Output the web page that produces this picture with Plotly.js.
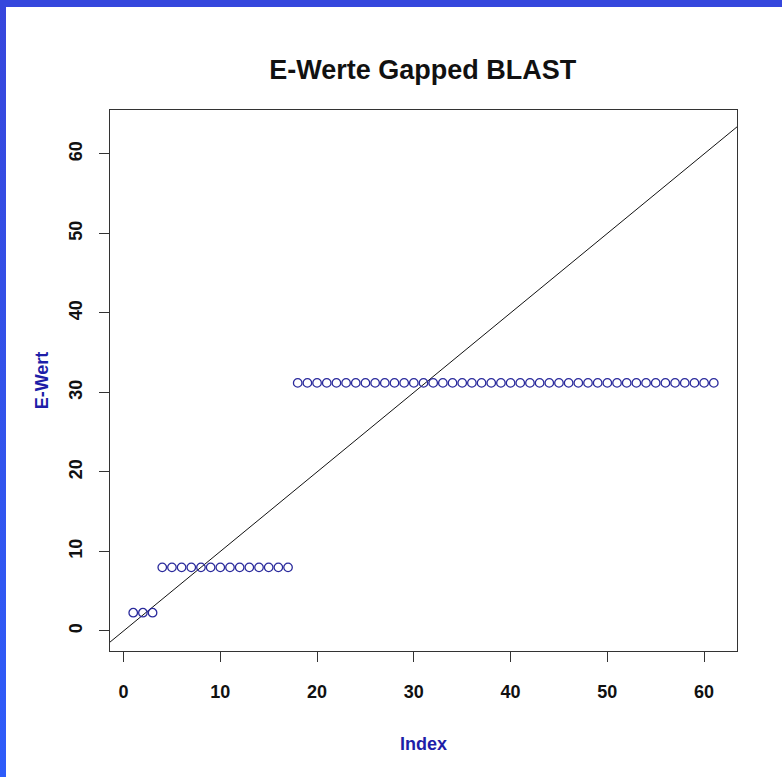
<!DOCTYPE html>
<html>
<head>
<meta charset="utf-8">
<script src="https://cdn.plot.ly/plotly-3.0.1.min.js"></script>
<style>
  html, body { margin: 0; padding: 0; }
  body {
    width: 782px; height: 777px; overflow: hidden;
    background: linear-gradient(to bottom, #3646dc 0%, #3252ea 50%, #2e5cfa 100%);
    position: relative;
  }
  #topband { position: absolute; left: 0; top: 0; width: 782px; height: 7px; background: #3547dd; }
  #chart { position: absolute; left: 6px; top: 7px; width: 776px; height: 770px; background: #fff; }
</style>
</head>
<body>
<div id="topband"></div>
<div id="chart"></div>
<script>
// ---- data ----
var indexValues = [];
for (var i = 1; i <= 61; i++) indexValues.push(i);
var eWertGroup1 = [2.3, 2.3, 2.3];                       // Index 1-3
var eWertGroup2 = [8.0, 8.0, 8.0, 8.0, 8.0, 8.0, 8.0, 8.0, 8.0, 8.0, 8.0, 8.0, 8.0, 8.0]; // Index 4-17
var eWertGroup3 = [31.2, 31.2, 31.2, 31.2, 31.2, 31.2, 31.2, 31.2, 31.2, 31.2, 31.2,
                   31.2, 31.2, 31.2, 31.2, 31.2, 31.2, 31.2, 31.2, 31.2, 31.2, 31.2,
                   31.2, 31.2, 31.2, 31.2, 31.2, 31.2, 31.2, 31.2, 31.2, 31.2, 31.2,
                   31.2, 31.2, 31.2, 31.2, 31.2, 31.2, 31.2, 31.2, 31.2, 31.2, 31.2]; // Index 18-61
var eWerte = eWertGroup1.concat(eWertGroup2, eWertGroup3);
var ablineIntercept = 0;
var ablineSlope = 1;
var yLimits = [0, 63];
var tickValsX = [0, 10, 20, 30, 40, 50, 60];
var tickValsY = [0, 10, 20, 30, 40, 50, 60];

// R-style 4% axis extension
function rRange(lo, hi) { var d = (hi - lo) * 0.04; return [lo - d, hi + d]; }
var xr = rRange(Math.min.apply(null, indexValues), Math.max.apply(null, indexValues));
var yr = rRange(yLimits[0], yLimits[1]);

var points = {
  x: indexValues, y: eWerte, type: 'scatter', mode: 'markers',
  marker: { symbol: 'circle-open', size: 8.5, color: '#2a2a9c', line: { width: 1.3, color: '#2a2a9c' } },
  hoverinfo: 'x+y', showlegend: false
};
var abline = {
  x: xr, y: xr.map(function (v) { return ablineIntercept + ablineSlope * v; }),
  type: 'scatter', mode: 'lines', line: { color: '#111', width: 1 },
  showlegend: false, hoverinfo: 'skip'
};

var FONT = 'Arial, Liberation Sans, sans-serif';
var tickFont = { family: FONT, size: 18, color: '#111', weight: 'bold' };
var layout = {
  width: 776, height: 770,
  paper_bgcolor: '#ffffff', plot_bgcolor: '#ffffff',
  margin: { l: 104, r: 45, t: 103, b: 126 },
  title: {
    text: '<b>E-Werte Gapped BLAST</b>',
    font: { family: FONT, size: 27, color: '#111' },
    x: 0.537, xanchor: 'center', y: 1 - 63 / 770, yanchor: 'middle'
  },
  xaxis: {
    range: xr, tickvals: tickValsX, ticks: 'outside', ticklen: 10, tickwidth: 1, tickcolor: '#333',
    showline: true, mirror: true, linecolor: '#333', linewidth: 1.2,
    showgrid: false, zeroline: false, tickfont: tickFont, ticklabelstandoff: 14,
    title: { text: '<b>Index</b>', font: { family: FONT, size: 18, color: '#1e1ea8' }, standoff: 36 },
    automargin: false
  },
  yaxis: {
    range: yr, tickvals: tickValsY, ticks: 'outside', ticklen: 10, tickwidth: 1, tickcolor: '#333',
    showline: true, mirror: true, linecolor: '#333', linewidth: 1.2,
    showgrid: false, zeroline: false, tickfont: tickFont, tickangle: -90, ticklabelstandoff: 10,
    title: { text: '<b>E-Wert</b>', font: { family: FONT, size: 18, color: '#1e1ea8' }, standoff: 12 },
    automargin: false
  }
};

Plotly.newPlot('chart', [abline, points], layout, { displayModeBar: false, staticPlot: true });
</script>
</body>
</html>
